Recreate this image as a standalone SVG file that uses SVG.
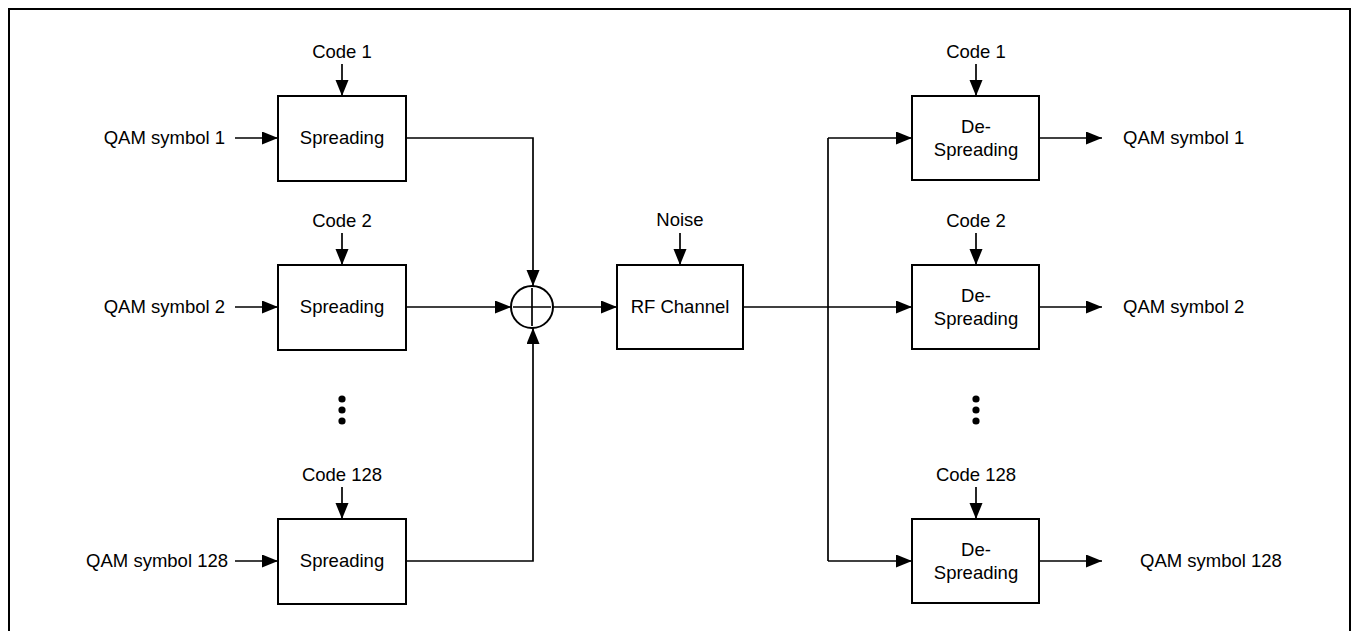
<svg xmlns="http://www.w3.org/2000/svg" width="1351" height="631" viewBox="0 0 1351 631">
<style>
text{font-family:"Liberation Sans",Arial,sans-serif;font-size:18.5px;fill:#000}
.c{text-anchor:middle}
.e{text-anchor:end}
.box{fill:#fff;stroke:#000;stroke-width:2}
.ln{fill:none;stroke:#000;stroke-width:1.7}
.ar{fill:none;stroke:#000;stroke-width:1.7;marker-end:url(#ah)}
</style>
<defs>
<marker id="ah" markerUnits="userSpaceOnUse" markerWidth="17" markerHeight="14" refX="16" refY="6.5" orient="auto">
<path d="M0,0 L16,6.5 L0,13 z" fill="#000"/>
</marker>
</defs>
<rect x="9" y="9" width="1341" height="640" fill="#fff" stroke="#000" stroke-width="2"/>

<g id="connectors">
<path class="ar" d="M342,64 V96"/>
<path class="ar" d="M342,233 V265"/>
<path class="ar" d="M342,487 V519"/>
<path class="ar" d="M235,138 H278"/>
<path class="ar" d="M235,307 H278"/>
<path class="ar" d="M235,561 H278"/>
<path class="ar" d="M406,138 H533 V286"/>
<path class="ar" d="M406,307 H511"/>
<path class="ar" d="M406,561 H533 V328"/>
<path class="ar" d="M553,307 H617"/>
<path class="ar" d="M680,233 V265"/>
<path class="ln" d="M743,307 H828" stroke-width="2.2"/>
<path class="ln" d="M828,138 V561"/>
<path class="ar" d="M828,307 H912"/>
<path class="ar" d="M828,138 H912"/>
<path class="ar" d="M828,561 H912"/>
<path class="ar" d="M976,64 V96"/>
<path class="ar" d="M976,233 V265"/>
<path class="ar" d="M976,487 V519"/>
<path class="ar" d="M1039,138 H1102"/>
<path class="ar" d="M1039,307 H1102"/>
<path class="ar" d="M1039,561 H1102"/>
</g>

<g id="in1"><text class="e" x="225" y="144">QAM symbol 1</text></g>
<g id="in2"><text class="e" x="225" y="313">QAM symbol 2</text></g>
<g id="in128"><text class="e" x="228" y="567">QAM symbol 128</text></g>

<g id="code1"><text class="c" x="342" y="57.5">Code 1</text></g>
<g id="code2"><text class="c" x="342" y="226.5">Code 2</text></g>
<g id="code128"><text class="c" x="342" y="480.5">Code 128</text></g>

<g id="spread1"><rect class="box" x="278" y="96" width="128" height="85"/><text class="c" x="342" y="144">Spreading</text></g>
<g id="spread2"><rect class="box" x="278" y="265" width="128" height="85"/><text class="c" x="342" y="313">Spreading</text></g>
<g id="spread128"><rect class="box" x="278" y="519" width="128" height="85"/><text class="c" x="342" y="567">Spreading</text></g>

<g id="dotsL"><circle cx="342" cy="399" r="3.6"/><circle cx="342" cy="410" r="3.6"/><circle cx="342" cy="421" r="3.6"/></g>

<g id="sum"><circle cx="532" cy="307" r="21" fill="#fff" stroke="#000" stroke-width="2"/><path class="ln" d="M513,307 H551 M532,288 V326"/></g>

<g id="noise"><text class="c" x="680" y="226">Noise</text></g>
<g id="rf"><rect class="box" x="617" y="265" width="126" height="84"/><text class="c" x="680" y="313">RF Channel</text></g>

<g id="rcode1"><text class="c" x="976" y="57.5">Code 1</text></g>
<g id="rcode2"><text class="c" x="976" y="226.5">Code 2</text></g>
<g id="rcode128"><text class="c" x="976" y="480.5">Code 128</text></g>

<g id="despread1"><rect class="box" x="912" y="96" width="127" height="84"/><text class="c" x="976" y="133">De-</text><text class="c" x="976" y="156">Spreading</text></g>
<g id="despread2"><rect class="box" x="912" y="265" width="127" height="84"/><text class="c" x="976" y="302">De-</text><text class="c" x="976" y="325">Spreading</text></g>
<g id="despread128"><rect class="box" x="912" y="519" width="127" height="84"/><text class="c" x="976" y="556">De-</text><text class="c" x="976" y="579">Spreading</text></g>

<g id="dotsR"><circle cx="976" cy="399" r="3.6"/><circle cx="976" cy="410" r="3.6"/><circle cx="976" cy="421" r="3.6"/></g>

<g id="out1"><text x="1123" y="144">QAM symbol 1</text></g>
<g id="out2"><text x="1123" y="313">QAM symbol 2</text></g>
<g id="out128"><text x="1140" y="567">QAM symbol 128</text></g>
</svg>
